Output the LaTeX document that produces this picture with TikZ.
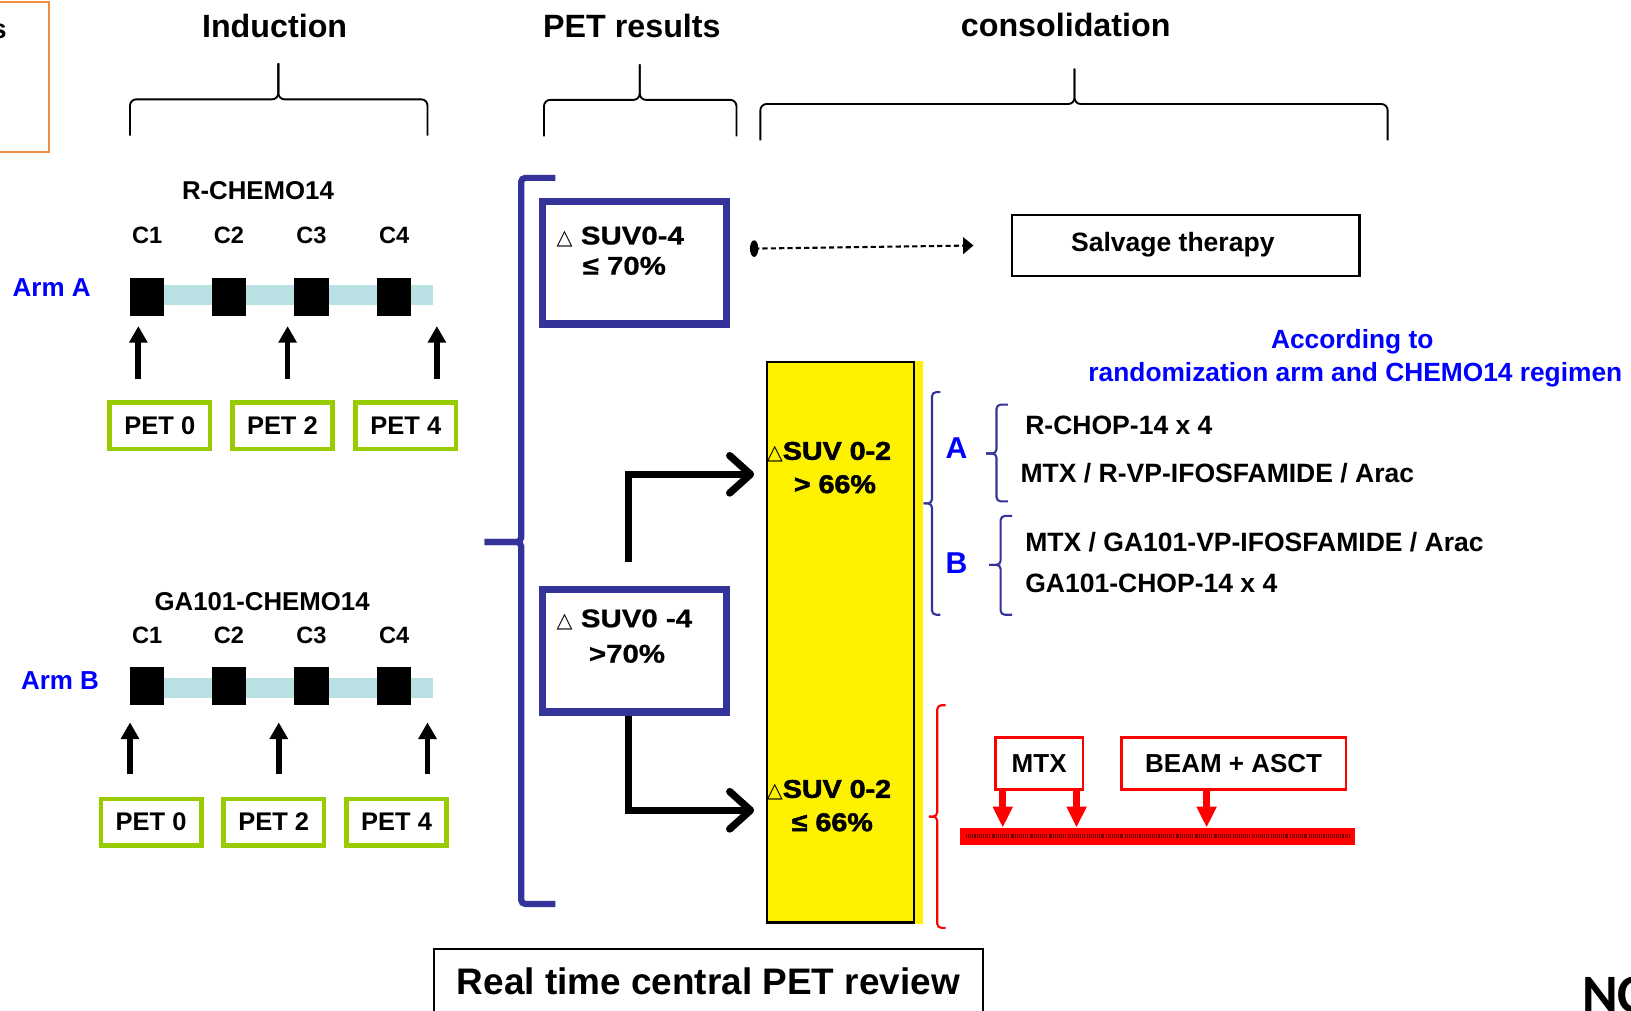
\documentclass[tikz,border=0pt]{standalone}
\usepackage{fontspec}
\setmainfont{Liberation Sans}
\newfontfamily\widefont{Liberation Sans Bold}[FakeStretch=1.15,FakeBold=0.8]
\newfontfamily\heavyfont{Liberation Sans Bold}[FakeStretch=1.12,FakeBold=2]
\newfontfamily\symfont{DejaVu Sans}
\newfontfamily\ncfont{Carlito}
\usetikzlibrary{arrows.meta,positioning,calc}

\definecolor{navy}{RGB}{51,51,153}
\definecolor{armblue}{RGB}{0,0,255}
\definecolor{petgreen}{RGB}{153,204,0}
\definecolor{cyclebar}{RGB}{185,224,227}
\definecolor{frameorange}{RGB}{242,140,60}
\definecolor{barred}{RGB}{255,0,0}
\definecolor{bardark}{RGB}{110,0,0}

\newcommand\fsz[1]{\fontsize{#1}{#1}\selectfont}
\newcommand\tri{{\symfont\mdseries\fsz{20}△}}

% bracket on its side: hooks to the right, point to the left
\newcommand\sidebrace[7]{% style, x, top, bottom, middle, hook, point
  \draw[#1,rounded corners=4pt] (#2+#6,#3) -| (#2,#5) -- (#2-#7,#5);
  \draw[#1,rounded corners=4pt] (#2+#6,#4) -| (#2,#5) -- (#2-#7,#5);}
% bracket over a phase of the study
\newcommand\phasebrace[5]{% left, right, tip x, line y, tip y
  \draw[line width=1.8pt,rounded corners=6pt] (#1,#4+35) |- (#3,#4) -- (#3,#5);
  \draw[line width=1.8pt,rounded corners=6pt] (#2,#4+35) |- (#3,#4) -- (#3,#5);}

\begin{document}
\begin{tikzpicture}[x=1pt,y=-1pt,
    head/.style={font=\bfseries\fsz{31}, inner sep=0pt, anchor=base},
    regimen/.style={font=\bfseries\fsz{24.8}, inner sep=0pt, anchor=base},
    cycle/.style={font=\bfseries\fsz{22.7}, inner sep=0pt, anchor=base},
    arm/.style={font=\bfseries\fsz{25}, text=armblue, inner sep=0pt, anchor=base west},
    dose/.style={fill=black, minimum width=33pt, minimum height=36pt, inner sep=0pt},
    petbox/.style={draw=petgreen, line width=4.5pt, minimum width=96.5pt, minimum height=44.5pt, inner sep=0pt, font=\bfseries\fsz{24.5}},
    uparrow/.style={line width=5.5pt, -{Triangle[width=17pt,length=16pt]}},
    suvbox/.style={draw=navy, line width=7pt, minimum width=177pt, minimum height=118pt, inner sep=0pt},
    suvtext/.style={font=\widefont\fsz{24.6}, inner sep=0pt, anchor=base west},
    goodtext/.style={font=\heavyfont\fsz{24.6}, inner sep=0pt, anchor=base west},
    elbow/.style={line width=7pt, -{Straight Barb[length=20pt,width=36pt,round]}},
    plainbox/.style={draw, line width=2.2pt, inner sep=0pt},
    item/.style={font=\bfseries\fsz{25.5}, inner sep=0pt, anchor=base west},
    letter/.style={font=\bfseries\fsz{29}, text=armblue, inner sep=0pt, anchor=base west},
    note/.style={font=\bfseries\fsz{25.3}, text=armblue, inner sep=0pt, anchor=base},
    redbox/.style={draw=barred, line width=2.2pt, fill=white, inner sep=0pt, font=\bfseries\fsz{25}},
    redarrow/.style={barred, line width=6.5pt, -{Triangle[width=18pt,length=20pt]}}]
\useasboundingbox (0,0) rectangle (1568,971);

% phases
\node[head] (hInd) at (264,36.5) {Induction};
\node[head] (hPet) at (607.5,36.5) {PET results};
\node[head] (hCons) at (1024.5,35) {consolidation};
\phasebrace{125}{411}{267.6}{95.5}{61}
\phasebrace{523}{708}{615}{96}{62}
\phasebrace{731}{1334}{1033}{100}{66}

\draw[frameorange, line width=1.8pt] (-20,1.6) rectangle (47.2,145.8);
\node[font=\bfseries\fsz{26}, inner sep=0pt, anchor=base east] (cutTitle) at (6.5,37) {s};

% arm A
\node[regimen] (regA) at (248,192) {R-CHEMO14};
\node[arm] (armA) at (12,285.5) {Arm A};
\node[fill=cyclebar, minimum width=291pt, minimum height=19pt, inner sep=0pt, anchor=west] (barA) at (125,283.5) {};
\foreach \i/\x in {1/141.5,2/220,3/299.5,4/379}{
  \node[cycle] (cA\i) at (\x,234) {C\i};
  \node[dose] (dA\i) at (\x,285.6) {};
}
\foreach \n/\x in {0/133,2/276.5,4/420}{
  \coordinate (aA\n) at (\x,364);
  \coordinate (tA\n) at (\x,313.5);
  \draw[uparrow] (aA\n) -- (tA\n);
}
\foreach \n/\x in {0/153.7,2/271.5,4/390.2}
  \node[petbox] (pA\n) at (\x,409.5) {PET \n};

% arm B
\node[regimen] (regB) at (252,587) {GA101-CHEMO14};
\node[arm] (armB) at (20,663) {Arm B};
\node[fill=cyclebar, minimum width=291pt, minimum height=19pt, inner sep=0pt, anchor=west] (barB) at (125,661.5) {};
\foreach \i/\x in {1/141.5,2/220,3/299.5,4/379}{
  \node[cycle] (cB\i) at (\x,618.5) {C\i};
  \node[dose] (dB\i) at (\x,659.3) {};
}
\foreach \n/\x in {0/125,2/268,4/411}{
  \coordinate (aB\n) at (\x,744.5);
  \coordinate (tB\n) at (\x,694.5);
  \draw[uparrow] (aB\n) -- (tB\n);
}
\foreach \n/\x in {0/145.2,2/263.2,4/381.3}
  \node[petbox] (pB\n) at (\x,790.3) {PET \n};

% PET results
\sidebrace{navy,line width=6pt}{501}{171}{869}{521}{33}{35}
\node[suvbox] (suvA) at (610,252.5) {};
\node[suvtext] (suvA1) at (535,235) {\tri\ SUV0-4};
\node[suvtext] (suvA2) at (560,264) {≤ 70\%};
\node[suvbox] (suvB) at (610,625.5) {};
\node[suvtext] (suvB1) at (535,603) {\tri\ SUV0 -4};
\node[suvtext] (suvB2) at (566,637) {>70\%};

% salvage
\node[plainbox, minimum width=334pt, minimum height=58pt] (salvage) at (1140,236) {};
\node[font=\bfseries\fsz{25.5}, inner sep=0pt] (salvTxt) at (1127.5,235) {Salvage therapy};
\coordinate (salvStart) at (725,239);
\fill (salvStart) ellipse (4 and 8);
\draw[line width=2pt, dash pattern=on 5pt off 3pt, -{Triangle[width=16pt,length=10pt]}] (salvStart) -- ([xshift=-36pt]salvage.west);

\node[note] (noteA) at (1300,335) {According to};
\node[note] (noteB) at (1303,367) {randomization arm and CHEMO14 regimen};

% interim PET after 2 cycles
\fill[yellow] (760,347) rectangle (887,888);
\node[draw, line width=2.4pt, fill=yellow, minimum width=141.6pt, minimum height=538.6pt, inner sep=0pt] (good) at (808,617.5) {};
\node[goodtext] (hiRes1) at (737,442) {\tri SUV 0-2};
\node[goodtext] (hiRes2) at (763,474) {> 66\%};
\node[goodtext] (loRes1) at (737,767) {\tri SUV 0-2};
\node[goodtext] (loRes2) at (761,799) {≤ 66\%};

\coordinate (hiStart) at (604,540);
\coordinate (hiEnd) at (725,456);
\coordinate (loEnd) at (725,779);
\draw[elbow] (hiStart) |- (hiEnd);
\draw[elbow] ([xshift=-6pt]suvB.south) |- (loEnd);

% consolidation by arm
\sidebrace{navy,line width=2pt}{896}{377}{591}{484}{8}{8}
\sidebrace{navy,line width=2pt}{958}{389}{482}{436}{11}{10}
\sidebrace{navy,line width=2pt}{962}{496}{591}{543}{11}{11}
\node[letter] (letA) at (909,441) {A};
\node[letter] (letB) at (909,551) {B};
\node[item] (itA1) at (985.5,418) {R-CHOP-14 x 4};
\node[item] (itA2) at (981,464) {MTX / R-VP-IFOSFAMIDE / Arac};
\node[item] (itB1) at (985.5,530) {MTX / GA101-VP-IFOSFAMIDE / Arac};
\node[item] (itB2) at (985.5,570) {GA101-CHOP-14 x 4};

% high dose arm
\sidebrace{barred,line width=2pt}{901}{678}{892}{785}{8}{8}
\node[redbox, minimum width=83.8pt, minimum height=49.8pt] (mtx) at (999,734) {MTX};
\node[redbox, minimum width=215.8pt, minimum height=49.8pt] (beam) at (1186,734) {BEAM + ASCT};
\node[fill=barred, minimum width=380pt, minimum height=16.5pt, inner sep=0pt] (bar) at (1113,804) {};
\draw[bardark, line width=4pt, dash pattern=on 0.7pt off 1.1pt on 1.2pt off 0.9pt on 0.6pt off 1.6pt] ([xshift=6pt]bar.west) -- ([xshift=-6pt]bar.east);
\coordinate (mtxL) at ([xshift=-35pt]mtx.south);
\coordinate (mtxR) at ([xshift=36pt]mtx.south);
\coordinate (beamA) at ([xshift=-26pt]beam.south);
\foreach \s in {mtxL,mtxR,beamA}
  \draw[redarrow] (\s) -- (\s |- bar.north);

\node[plainbox, minimum width=528pt, minimum height=62pt, anchor=north, font=\bfseries\fsz{35.5}] (review) at (681,911.5) {Real time central PET review};
\node[font=\ncfont\bfseries\fsz{52}, inner sep=0pt, anchor=base west] (nc) at (1521,973) {NC};
\end{tikzpicture}
\end{document}
